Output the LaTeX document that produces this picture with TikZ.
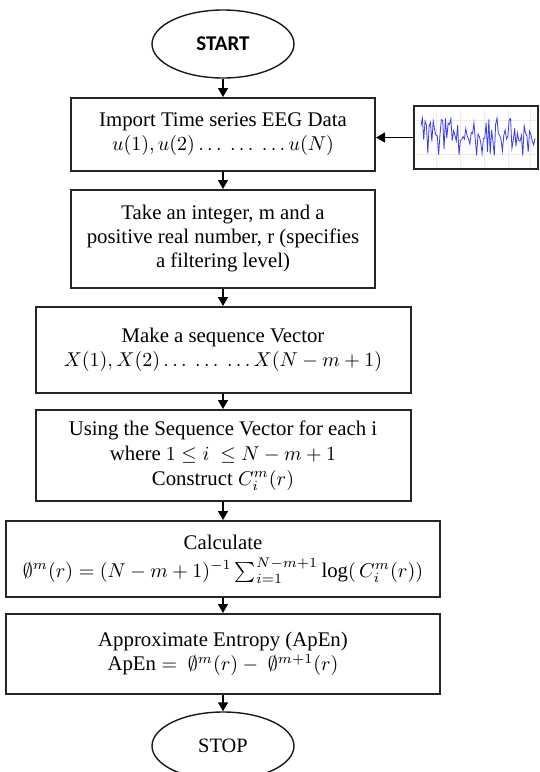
\documentclass[tikz,border=0pt]{standalone}
\usepackage{fontspec}
\setmainfont{Liberation Serif}
\newfontfamily\calibri{Carlito}
\usetikzlibrary{arrows.meta,shapes.geometric}
\definecolor{eegblue}{HTML}{3A3AF2}

\tikzset{
  procbox/.style={draw=black!85, line width=1pt, rectangle, inner sep=2pt, align=center,
    font=\fontsize{10.4}{12}\selectfont},
  termnode/.style={draw=black!90, line width=0.7pt, ellipse, minimum width=71pt,
    minimum height=34pt, inner sep=0pt},
  flowarrow/.style={line width=0.7pt, -{Triangle[length=4.5pt,width=5pt]}},
}

\begin{document}
\begin{tikzpicture}[x=0.5pt, y=-0.5pt]
  \useasboundingbox (0,0) rectangle (540,772);
  % terminals
  \node[termnode, font=\calibri\bfseries\fontsize{10.5}{12}\selectfont] (start) at (223,44) {START};
  \node[termnode, font=\fontsize{10.2}{12}\selectfont] (stop) at (223,746) {STOP};
  % processing steps
  \node[procbox, minimum width=152pt, minimum height=36.5pt] (import) at (223,134.5)
    {Import Time series EEG Data\\ $u(1), u(2) \ldots\ \ldots\ \ldots u(N)$};
  \node[procbox, minimum width=152pt, minimum height=49pt] (params) at (223,239)
    {Take an integer, m and a\\ positive real number, r (specifies\\ a filtering level)};
  \node[procbox, minimum width=187.5pt, minimum height=43pt] (seqvec) at (223,350)
    {Make a sequence Vector\\ $X(1), X(2) \ldots\ \ldots\ \ldots X(N-m+1)$};
  \node[procbox, minimum width=187.5pt, minimum height=45.5pt,
    font=\fontsize{10.4}{12.5}\selectfont] (corr) at (223,455.5)
    {Using the Sequence Vector for each i\\ where $1 \le i\ \le N-m+1$\\ Construct $C_i^m(r)$};
  \node[procbox, minimum width=216.7pt, minimum height=38pt,
    font=\fontsize{10.4}{14}\selectfont] (phi) at (223,559)
    {Calculate\\ $\emptyset^m(r) = (N-m+1)^{-1}\sum_{i=1}^{N-m+1}\log(\,C_i^m(r))$};
  \node[procbox, minimum width=216.7pt, minimum height=40pt] (apen) at (223,654)
    {Approximate Entropy (ApEn)\\ $\mathrm{ApEn} =\ \emptyset^m(r) -\ \emptyset^{m+1}(r)$};
  % EEG input trace
  \node[draw=black!85, line width=1pt, fill=white, minimum width=62pt, minimum height=31.5pt,
    inner sep=0pt] (eeg) at (476,137.5) {};
  \foreach \gx in {436,460,484,508,530}
    \draw[black!8, line width=0.3pt] (\gx,108) -- (\gx,167);
  \foreach \gy in {120,154}
    \draw[black!8, line width=0.3pt] (416,\gy) -- (536,\gy);
  \pgfmathsetseed{17}
  \draw[eegblue, line width=0.4pt] plot[domain=421:535, samples=85] (\x, {137+19*rand});
  % connectors
  \draw[flowarrow] (start.south) -- (import.north);
  \draw[flowarrow] (import.south) -- (params.north);
  \draw[flowarrow] (params.south) -- (seqvec.north);
  \draw[flowarrow] (seqvec.south) -- (corr.north);
  \draw[flowarrow] (corr.south) -- (phi.north);
  \draw[flowarrow] (phi.south) -- (apen.north);
  \draw[flowarrow] (apen.south) -- (stop.north);
  \draw[flowarrow] (eeg.west) -- (eeg.west -| import.east);
\end{tikzpicture}
\end{document}
